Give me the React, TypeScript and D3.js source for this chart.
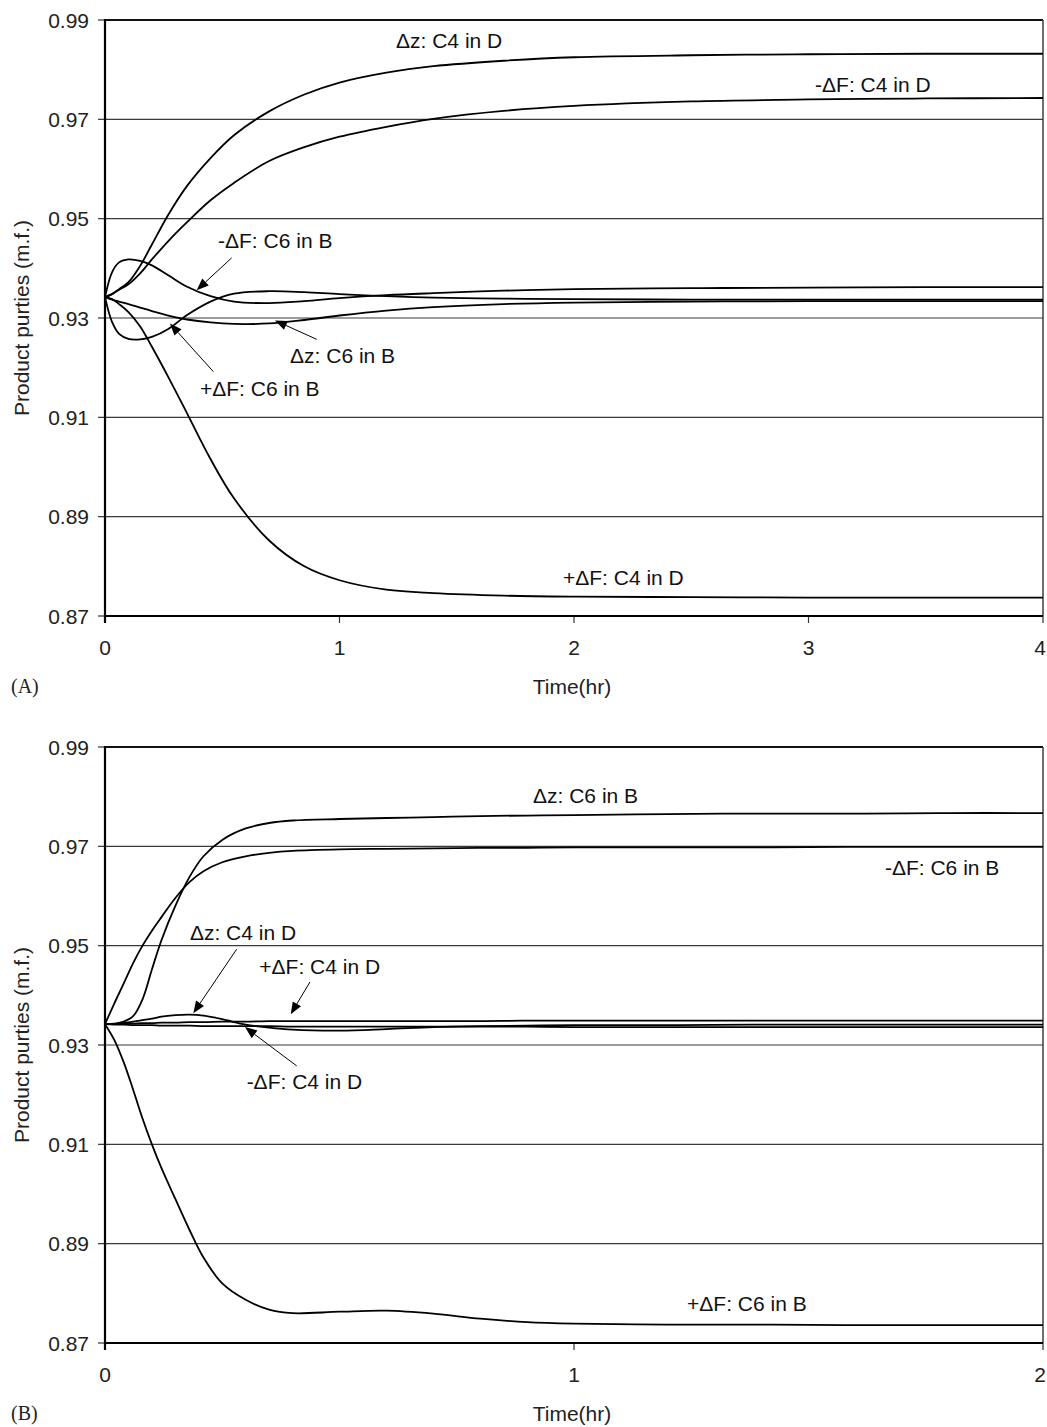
import React from "react";
import * as d3 from "d3";

// ---- axis ticks ----
const yTicks = [0.87, 0.89, 0.91, 0.93, 0.95, 0.97, 0.99];
const xTicksA = [0, 1, 2, 3, 4];
const xTicksB = [0, 1, 2];

// ---- panel A: time grid (hr) and product purities ----
const timeA = [0, 0.03, 0.06, 0.1, 0.15, 0.2, 0.27, 0.35, 0.45, 0.55, 0.7, 0.85, 1.0, 1.2, 1.4, 1.7, 2.0, 2.5, 3.0, 3.5, 4.0];
const dzC4inD_A = [0.9342, 0.9348, 0.9358, 0.9372, 0.9405, 0.9448, 0.9508, 0.9566, 0.9622, 0.9668, 0.9716, 0.975, 0.9774, 0.9794, 0.9807, 0.9818, 0.9825, 0.9829, 0.9831, 0.9832, 0.9832];
const mFC4inD_A = [0.9342, 0.9348, 0.9357, 0.9368, 0.939, 0.9418, 0.9455, 0.9493, 0.9537, 0.9572, 0.9616, 0.9644, 0.9665, 0.9685, 0.9701, 0.9717, 0.9727, 0.9736, 0.974, 0.9742, 0.9743];
const mFC6inB_A = [0.9342, 0.9392, 0.9412, 0.9418, 0.9415, 0.9406, 0.9386, 0.9363, 0.9344, 0.9333, 0.933, 0.9334, 0.934, 0.9346, 0.935, 0.9355, 0.9358, 0.936, 0.9361, 0.9362, 0.9362];
const pFC6inB_A = [0.9342, 0.9292, 0.9268, 0.9258, 0.9257, 0.9262, 0.9278, 0.9306, 0.9333, 0.9349, 0.9354, 0.9352, 0.9348, 0.9344, 0.9341, 0.9339, 0.9338, 0.9337, 0.9337, 0.9337, 0.9337];
const dzC6inB_A = [0.9342, 0.9337, 0.9333, 0.9328, 0.9321, 0.9314, 0.9305, 0.9297, 0.9291, 0.9288, 0.9289, 0.9296, 0.9305, 0.9315, 0.9322, 0.9328, 0.9331, 0.9333, 0.9334, 0.9334, 0.9334];
const pFC4inD_A = [0.9342, 0.9338, 0.9328, 0.9312, 0.9283, 0.9242, 0.9181, 0.9108, 0.9016, 0.8937, 0.8852, 0.88, 0.8772, 0.8753, 0.8746, 0.8741, 0.8739, 0.8738, 0.8737, 0.8737, 0.8737];

// ---- panel B: time grid (hr) and product purities ----
const timeB = [0, 0.02, 0.04, 0.06, 0.08, 0.1, 0.12, 0.15, 0.18, 0.21, 0.25, 0.3, 0.35, 0.4, 0.5, 0.6, 0.7, 0.8, 0.9, 1.0, 1.2, 1.4, 1.6, 1.8, 2.0];
const dzC6inB_B = [0.9342, 0.9343, 0.9347, 0.9358, 0.9392, 0.9452, 0.951, 0.958, 0.9638, 0.968, 0.9713, 0.9736, 0.9747, 0.9752, 0.9755, 0.9757, 0.9759, 0.9761, 0.9762, 0.9763, 0.9765, 0.9766, 0.9766, 0.9767, 0.9767];
const mFC6inB_B = [0.9342, 0.9384, 0.9424, 0.9465, 0.95, 0.953, 0.9557, 0.9596, 0.9628, 0.965, 0.9668, 0.968, 0.9687, 0.9691, 0.9694, 0.9695, 0.9696, 0.9697, 0.9697, 0.9698, 0.9698, 0.9698, 0.9699, 0.9699, 0.9699];
const dzC4inD_B = [0.9342, 0.9342, 0.9344, 0.9347, 0.935, 0.9353, 0.9357, 0.936, 0.9361, 0.9359, 0.9352, 0.9341, 0.9335, 0.9331, 0.9329, 0.9332, 0.9336, 0.9338, 0.9339, 0.934, 0.934, 0.9341, 0.9341, 0.9341, 0.9341];
const pFC4inD_B = [0.9342, 0.9342, 0.9343, 0.9343, 0.9344, 0.9344, 0.9345, 0.9345, 0.9346, 0.9346, 0.9347, 0.9347, 0.9348, 0.9348, 0.9348, 0.9348, 0.9348, 0.9348, 0.9349, 0.9349, 0.9349, 0.9349, 0.9349, 0.9349, 0.9349];
const mFC4inD_B = [0.9342, 0.9341, 0.9341, 0.934, 0.934, 0.934, 0.9339, 0.9339, 0.9339, 0.9338, 0.9338, 0.9338, 0.9338, 0.9337, 0.9337, 0.9337, 0.9337, 0.9337, 0.9337, 0.9336, 0.9336, 0.9336, 0.9336, 0.9336, 0.9336];
const pFC6inB_B = [0.9342, 0.931, 0.9265, 0.921, 0.9152, 0.91, 0.9053, 0.899, 0.8928, 0.8872, 0.882, 0.8787, 0.8767, 0.876, 0.8763, 0.8765, 0.8759, 0.8749, 0.8742, 0.8739, 0.8737, 0.8737, 0.8736, 0.8736, 0.8736];

// ---- curve labels: text anchor (t, value) and optional arrow [t0, v0, tipT, tipV] ----
type Note = { text: string; t: number; v: number; arrow?: [number, number, number, number] };

const notesA: Note[] = [
  { text: "\u0394z: C4 in D", t: 1.241, v: 0.9844 },
  { text: "-\u0394F: C4 in D", t: 3.028, v: 0.9755 },
  { text: "-\u0394F: C6 in B", t: 0.482, v: 0.9441, arrow: [0.54, 0.9421, 0.391, 0.9356] },
  { text: "\u0394z: C6 in B", t: 0.789, v: 0.921, arrow: [0.903, 0.9257, 0.725, 0.9295] },
  { text: "+\u0394F: C6 in B", t: 0.405, v: 0.9142, arrow: [0.462, 0.9192, 0.277, 0.9289] },
  { text: "+\u0394F: C4 in D", t: 1.953, v: 0.8762 },
];

const notesB: Note[] = [
  { text: "\u0394z: C6 in B", t: 0.9126, v: 0.9787 },
  { text: "-\u0394F: C6 in B", t: 1.663, v: 0.9642 },
  { text: "\u0394z: C4 in D", t: 0.181, v: 0.9511, arrow: [0.2808, 0.9493, 0.1883, 0.9364] },
  { text: "+\u0394F: C4 in D", t: 0.329, v: 0.9443, arrow: [0.4371, 0.9427, 0.396, 0.9362] },
  { text: "-\u0394F: C4 in D", t: 0.302, v: 0.9211, arrow: [0.4087, 0.9258, 0.2985, 0.9336] },
  { text: "+\u0394F: C6 in B", t: 1.241, v: 0.8765 },
];

const W = 1047;
const H = 1427;
const LEFT = 105;
const RIGHT = 1043;
const PLOT_H = 596;
const SANS = "'Liberation Sans', Arial, Helvetica, sans-serif";
const SERIF = "'Liberation Serif', 'Times New Roman', serif";

type PanelProps = {
  top: number;
  xMax: number;
  xTicks: number[];
  time: number[];
  series: number[][];
  notes: Note[];
  tag: string;
};

function Panel({ top, xMax, xTicks, time, series, notes, tag }: PanelProps) {
  const bottom = top + PLOT_H;
  const x = d3.scaleLinear().domain([0, xMax]).range([LEFT, RIGHT]);
  const y = d3.scaleLinear().domain([0.87, 0.99]).range([bottom, top]);
  const line = d3
    .line<number>()
    .x((_, i) => x(time[i]))
    .y((d) => y(d))
    .curve(d3.curveCatmullRom.alpha(0.5));
  const fmt = d3.format(".2f");

  const arrowHead = (x0: number, y0: number, x1: number, y1: number) => {
    const dx = x1 - x0;
    const dy = y1 - y0;
    const len = Math.hypot(dx, dy);
    const ux = dx / len;
    const uy = dy / len;
    const L = 12;
    const w = 4.8;
    const bx = x1 - ux * L;
    const by = y1 - uy * L;
    return {
      bx,
      by,
      pts: `${x1},${y1} ${bx - uy * w},${by + ux * w} ${bx + uy * w},${by - ux * w}`,
    };
  };

  return (
    <g>
      {/* horizontal grid */}
      {yTicks
        .filter((v) => v > 0.87 && v < 0.99)
        .map((v) => (
          <line key={`g${v}`} x1={LEFT} x2={RIGHT} y1={y(v)} y2={y(v)} stroke="#3a3a3a" strokeWidth={1.2} />
        ))}
      {/* frame: top and right */}
      <line x1={LEFT} x2={RIGHT} y1={top} y2={top} stroke="#111" strokeWidth={1.8} />
      <line x1={RIGHT} x2={RIGHT} y1={top} y2={bottom} stroke="#333" strokeWidth={1.4} />
      {/* y ticks and labels */}
      {yTicks.map((v) => (
        <g key={`y${v}`}>
          <line x1={LEFT - 7} x2={LEFT} y1={y(v)} y2={y(v)} stroke="#333" strokeWidth={1.2} />
          <text x={89} y={y(v) + 7.5} textAnchor="end" fontFamily={SANS} fontSize={21} fill="#222">
            {fmt(v)}
          </text>
        </g>
      ))}
      {/* x ticks and labels */}
      {xTicks.map((t) => (
        <g key={`x${t}`}>
          <line x1={x(t)} x2={x(t)} y1={bottom} y2={bottom + 7} stroke="#333" strokeWidth={1.2} />
          <text
            x={Math.min(x(t), W - 7)}
            y={bottom + 39}
            textAnchor="middle"
            fontFamily={SANS}
            fontSize={21}
            fill="#222"
          >
            {t}
          </text>
        </g>
      ))}
      {/* data curves */}
      {series.map((s, i) => (
        <path key={`s${i}`} d={line(s) || ""} fill="none" stroke="#000" strokeWidth={1.8} />
      ))}
      {/* axes */}
      <line x1={LEFT} x2={LEFT} y1={top - 1} y2={bottom + 7} stroke="#000" strokeWidth={2.2} />
      <line x1={LEFT} x2={RIGHT} y1={bottom} y2={bottom} stroke="#000" strokeWidth={2.2} />
      {/* curve labels with arrows */}
      {notes.map((n, i) => {
        let arrow = null;
        if (n.arrow) {
          const [t0, v0, t1, v1] = n.arrow;
          const X0 = x(t0), Y0 = y(v0), X1 = x(t1), Y1 = y(v1);
          const h = arrowHead(X0, Y0, X1, Y1);
          arrow = (
            <g>
              <line x1={X0} y1={Y0} x2={h.bx} y2={h.by} stroke="#000" strokeWidth={1} />
              <polygon points={h.pts} fill="#000" />
            </g>
          );
        }
        return (
          <g key={`n${i}`}>
            {arrow}
            <text x={x(n.t)} y={y(n.v)} fontFamily={SANS} fontSize={21} fill="#111">
              {n.text}
            </text>
          </g>
        );
      })}
      {/* axis titles */}
      <text
        transform={`translate(29,${(top + bottom) / 2}) rotate(-90)`}
        textAnchor="middle"
        fontFamily={SANS}
        fontSize={21}
        fill="#222"
      >
        Product purties (m.f.)
      </text>
      <text x={572} y={bottom + 78} textAnchor="middle" fontFamily={SANS} fontSize={21} fill="#222">
        Time(hr)
      </text>
      <text x={11} y={bottom + 77} fontFamily={SERIF} fontSize={20} fill="#222">
        {tag}
      </text>
    </g>
  );
}

export default function App() {
  return (
    <svg
      width={W}
      height={H}
      viewBox={`0 0 ${W} ${H}`}
      style={{ position: "absolute", left: 0, top: 0, background: "#fff" }}
    >
      <rect width={W} height={H} fill="#fff" />
      <Panel
        top={20}
        xMax={4}
        xTicks={xTicksA}
        time={timeA}
        series={[dzC4inD_A, mFC4inD_A, mFC6inB_A, pFC6inB_A, dzC6inB_A, pFC4inD_A]}
        notes={notesA}
        tag="(A)"
      />
      <Panel
        top={747}
        xMax={2}
        xTicks={xTicksB}
        time={timeB}
        series={[dzC6inB_B, mFC6inB_B, dzC4inD_B, pFC4inD_B, mFC4inD_B, pFC6inB_B]}
        notes={notesB}
        tag="(B)"
      />
    </svg>
  );
}
